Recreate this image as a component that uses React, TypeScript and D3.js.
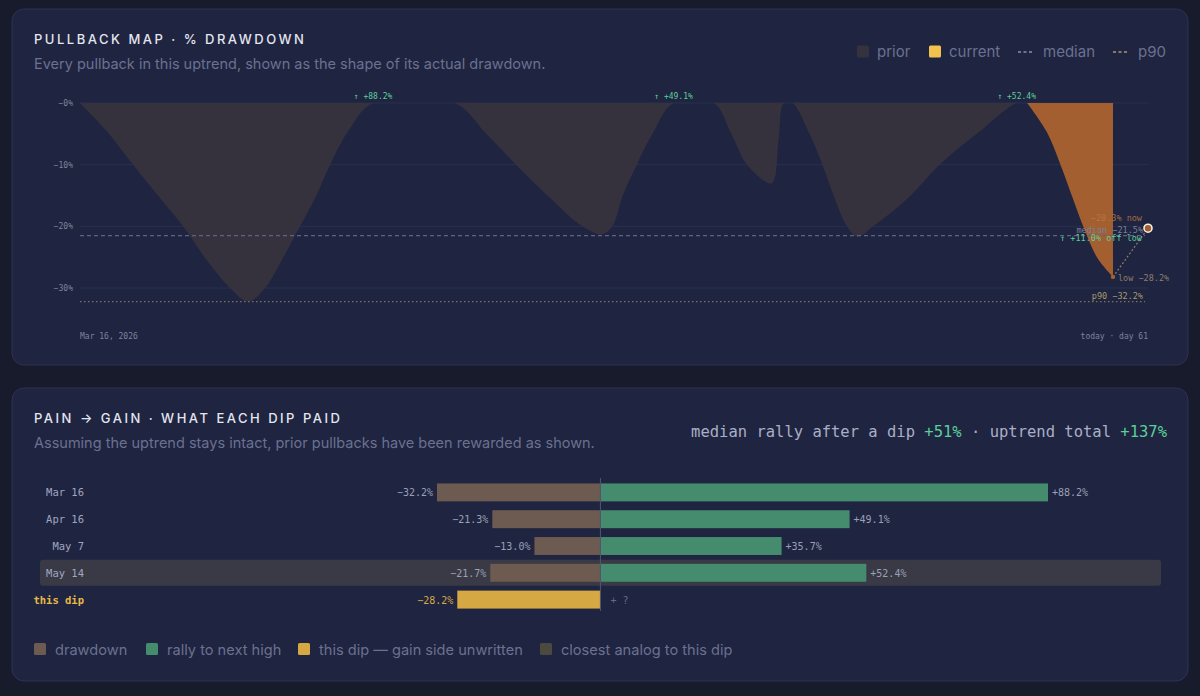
import React from 'react';
import * as d3 from 'd3';

// pullback map: drawdown path of every prior dip, in days since Mar 16, 2026
const priorDays = [
  0, 1.53, 3.03, 4.57, 5.89, 7.14, 8.57, 9.6, 10.57, 11.6, 12.57, 13.43, 14.29, 15.31, 16.74,
  21.4, 23.2, 24.9, 26.7, 28.7, 29.8, 30.4, 31.0, 31.8, 32.7, 33.9,
  36.2, 37.2, 38.1, 39.5, 39.9, 40.2,
  40.7, 41.6, 42.4, 43.1, 43.8, 44.4, 45.3, 47.3, 49.1, 51.4, 53.5, 54.1,
];
const priorDD = [
  0, -4.6, -10, -15.4, -20, -25.1, -30, -32.2, -30, -25.1, -20, -15.4, -10, -4.6, 0,
  0, -5, -10, -15, -20, -21.3, -20, -15, -10, -5, 0,
  0, -5, -10, -13, -6, 0,
  0, -4.6, -10, -15.4, -20, -21.7, -20, -15.4, -10, -4.6, 0, 0,
];

// current dip
const currentDays = [54.1, 55.2, 56.0, 56.7, 57.3, 58.1, 59.0];
const currentDD = [0, -4.6, -10, -15.4, -20, -25.1, -28.2];

const yTicks = [0, -10, -20, -30];
const totalDays = 61;
const lowDay = 59;
const lowDD = -28.2;
const nowDD = -20.3;
const medianDD = -21.5;
const p90DD = -32.2;
const startLabel = 'Mar 16, 2026';

// pain -> gain table
const dipLabels = ['Mar 16', 'Apr 16', 'May 7', 'May 14'];
const dipStartDays = [0, 21.4, 36.2, 40.7];
const dipRecoveryDays = [16.74, 33.9, 40.2, 53.5];
const dipDrawdowns = [-32.2, -21.3, -13.0, -21.7];
const dipRallies = [88.2, 49.1, 35.7, 52.4];
const closestAnalog = 'May 14';
const thisDipLabel = 'this dip';
const medianRally = 51;
const uptrendTotal = 137;

const SANS = "Inter, 'Noto Sans', sans-serif";
const MONO = "'DejaVu Sans Mono', monospace";

const C = {
  page: '#181b2c',
  card: '#1f2440',
  border: '#2c3353',
  title: '#e3e6f0',
  sub: '#6b7190',
  grid: '#293050',
  tick: '#7d849e',
  prior: '#35323e',
  current: '#a45f30',
  currentSwatch: '#f2c14e',
  median: '#5d6482',
  p90: '#77735f',
  green: '#5ccf9b',
  drawdown: '#6d5a51',
  rally: '#458b6e',
  thisDip: '#d6a843',
  analogRow: '#393a45',
  analogSwatch: '#4c4a3f',
};

const pct = (v: number) => `${v < 0 ? '−' : '+'}${Math.abs(v).toFixed(1)}%`;

const App: React.FC = () => {
  const W = 1200;
  const H = 696;

  // top chart scales
  const x = d3.scaleLinear().domain([0, totalDays]).range([80, 1148]);
  const y = d3.scaleLinear().domain([0, -30]).range([103, 288]);

  const area = d3.area<[number, number]>()
    .x(d => x(d[0]))
    .y0(y(0))
    .y1(d => y(d[1]))
    .curve(d3.curveCatmullRom.alpha(0.5));

  const priorPts = priorDays.map((d, i) => [d, priorDD[i]] as [number, number]);
  const currentPts = currentDays.map((d, i) => [d, currentDD[i]] as [number, number]);

  // bottom chart scales
  const rows = [...dipLabels, thisDipLabel];
  const xb = d3.scaleLinear().domain([-32.2, 88.2]).range([437, 1048]);
  const yb = d3.scaleBand().domain(rows).range([479, 613]).paddingInner(0.33).paddingOuter(0.165);
  const bh = yb.bandwidth();
  const offLow = ((1 + nowDD / 100) / (1 + lowDD / 100) - 1) * 100;

  const legendTop = [
    { type: 'sq', color: C.prior, label: 'prior', x: 857 },
    { type: 'sq', color: C.currentSwatch, label: 'current', x: 929 },
    { type: 'dash', color: '#8a90aa', label: 'median', x: 1018 },
    { type: 'dash', color: '#a99a6c', label: 'p90', x: 1113 },
  ];
  const legendBottom = [
    { color: C.drawdown, label: 'drawdown', x: 34 },
    { color: C.rally, label: 'rally to next high', x: 146 },
    { color: C.thisDip, label: 'this dip — gain side unwritten', x: 298 },
    { color: C.analogSwatch, label: 'closest analog to this dip', x: 540 },
  ];

  return (
    <div style={{ position: 'fixed', left: 0, top: 0, width: W, height: H, background: C.page }}>
      <svg width={W} height={H} style={{ display: 'block' }}>
        <defs>
          <clipPath id="below-zero">
            <rect x={x(0)} y={y(0)} width={x(totalDays) - x(0)} height={260} />
          </clipPath>
        </defs>

        {/* ---------- top card ---------- */}
        <rect x={12} y={9} width={1176} height={356} rx={12} fill={C.card} stroke={C.border} />
        <text x={34} y={44} fontFamily={SANS} fontSize={13} fontWeight={500} letterSpacing={2.5} fill={C.title}>
          PULLBACK MAP · % DRAWDOWN
        </text>
        <text x={34} y={69} fontFamily={SANS} fontSize={14.5} fill={C.sub}>
          Every pullback in this uptrend, shown as the shape of its actual drawdown.
        </text>

        {legendTop.map(l => (
          <g key={l.label}>
            {l.type === 'sq'
              ? <rect x={l.x} y={45.5} width={12} height={12} rx={1.5} fill={l.color} />
              : <line x1={l.x} x2={l.x + 16} y1={52} y2={52} stroke={l.color} strokeWidth={1.5} strokeDasharray="3 2.5" />}
            <text x={l.x + (l.type === 'sq' ? 20 : 25)} y={57} fontFamily={SANS} fontSize={15} fill={C.sub}>{l.label}</text>
          </g>
        ))}

        {/* grid + ticks */}
        {yTicks.map(t => (
          <g key={t}>
            <line x1={x(0)} x2={x(totalDays)} y1={y(t)} y2={y(t)} stroke={C.grid} strokeWidth={1} />
            <text x={73} y={y(t) + 3} textAnchor="end" fontFamily={MONO} fontSize={8} fill={C.tick}>
              {`−${Math.abs(t)}%`}
            </text>
          </g>
        ))}

        <g clipPath="url(#below-zero)">
          <path d={area(priorPts) || ''} fill={C.prior} />
          <path d={area(currentPts) || ''} fill={C.current} />
        </g>

        {/* median / p90 */}
        <line x1={x(0)} x2={x(totalDays) - 3} y1={y(medianDD)} y2={y(medianDD)} stroke={C.median} strokeWidth={1.2} strokeDasharray="4 3" />
        <line x1={x(0)} x2={x(totalDays) - 3} y1={y(p90DD)} y2={y(p90DD)} stroke={C.p90} strokeWidth={1.2} strokeDasharray="1.5 2.5" />

        {/* rally labels at each new high (skipped for very short dips) */}
        {dipRecoveryDays.map((d, i) => (dipRecoveryDays[i] - dipStartDays[i] >= 6) && (
          <text key={i} x={x(d)} y={y(0) - 4} textAnchor="middle" fontFamily={MONO} fontSize={8} fill={C.green}>
            {`↑ ${pct(dipRallies[i])}`}
          </text>
        ))}

        {/* low -> now */}
        <line x1={x(lowDay)} y1={y(lowDD)} x2={x(totalDays)} y2={y(nowDD)} stroke="#8c8070" strokeWidth={1.2} strokeDasharray="2 2" />
        <circle cx={x(lowDay)} cy={y(lowDD)} r={2.2} fill={C.current} />
        <circle cx={x(totalDays)} cy={y(nowDD)} r={4} fill={C.current} stroke="#f4f1ea" strokeWidth={1.6} />

        <text x={x(totalDays) - 6} y={y(nowDD) - 7} textAnchor="end" fontFamily={MONO} fontSize={8.5} fill="#b97a45" opacity={0.85}>
          {`${pct(nowDD)} now`}
        </text>
        <text x={x(totalDays) - 5} y={y(medianDD) - 3} textAnchor="end" fontFamily={MONO} fontSize={8.5} fill="#7a809a">
          {`median ${pct(medianDD)}`}
        </text>
        <text x={x(totalDays) - 6} y={y(medianDD) + 5} textAnchor="end" fontFamily={MONO} fontSize={8.5} fill={C.green}>
          {`↑ ${pct(offLow)} off low`}
        </text>
        <text x={x(lowDay) + 5} y={y(lowDD) + 4} fontFamily={MONO} fontSize={8.5} fill="#8c7e72">
          {`low ${pct(lowDD)}`}
        </text>
        <text x={x(totalDays) - 5} y={y(p90DD) - 3} textAnchor="end" fontFamily={MONO} fontSize={8.5} fill="#a8996c">
          {`p90 ${pct(p90DD)}`}
        </text>

        <text x={x(0)} y={339} fontFamily={MONO} fontSize={8} fill={C.tick}>{startLabel}</text>
        <text x={x(totalDays)} y={339} textAnchor="end" fontFamily={MONO} fontSize={8} fill={C.tick}>
          {`today · day ${totalDays}`}
        </text>

        {/* ---------- bottom card ---------- */}
        <rect x={12} y={388} width={1176} height={293} rx={12} fill={C.card} stroke={C.border} />
        <text x={34} y={423} fontFamily={SANS} fontSize={13} fontWeight={500} letterSpacing={2.5} fill={C.title}>
          PAIN → GAIN · WHAT EACH DIP PAID
        </text>
        <text x={34} y={448} fontFamily={SANS} fontSize={14.5} fill={C.sub}>
          Assuming the uptrend stays intact, prior pullbacks have been rewarded as shown.
        </text>
        <text x={1167} y={437} textAnchor="end" fontFamily={MONO} fontSize={15.5} fill="#a9afc6">
          median rally after a dip <tspan fill={C.green}>{`+${medianRally}%`}</tspan> · uptrend total <tspan fill={C.green}>{`+${uptrendTotal}%`}</tspan>
        </text>

        {/* closest analog highlight */}
        <rect x={40} y={(yb(closestAnalog) || 0) + bh / 2 - 13} width={1121} height={26} rx={3} fill={C.analogRow} />

        {dipLabels.map((lab, i) => {
          const yy = yb(lab) || 0;
          return (
            <g key={lab}>
              <rect x={xb(dipDrawdowns[i])} y={yy} width={xb(0) - xb(dipDrawdowns[i])} height={bh} fill={C.drawdown} />
              <rect x={xb(0)} y={yy} width={xb(dipRallies[i]) - xb(0)} height={bh} fill={C.rally} />
              <text x={84} y={yy + bh / 2 + 4} textAnchor="end" fontFamily={MONO} fontSize={10.5} fill="#a0a6c0">{lab}</text>
              <text x={xb(dipDrawdowns[i]) - 4} y={yy + bh / 2 + 4} textAnchor="end" fontFamily={MONO} fontSize={10} fill="#9aa0b8">
                {pct(dipDrawdowns[i])}
              </text>
              <text x={xb(dipRallies[i]) + 4} y={yy + bh / 2 + 4} fontFamily={MONO} fontSize={10} fill="#9aa0b8">
                {pct(dipRallies[i])}
              </text>
            </g>
          );
        })}

        {(() => {
          const yy = yb(thisDipLabel) || 0;
          return (
            <g>
              <rect x={xb(lowDD)} y={yy} width={xb(0) - xb(lowDD)} height={bh} fill={C.thisDip} />
              <text x={84} y={yy + bh / 2 + 4} textAnchor="end" fontFamily={MONO} fontSize={10.5} fontWeight="bold" fill="#e8b948">{thisDipLabel}</text>
              <text x={xb(lowDD) - 4} y={yy + bh / 2 + 4} textAnchor="end" fontFamily={MONO} fontSize={10} fill={C.thisDip}>{pct(lowDD)}</text>
              <text x={xb(0) + 10} y={yy + bh / 2 + 4} fontFamily={MONO} fontSize={10} fill="#646a88">+ ?</text>
            </g>
          );
        })()}

        <line x1={xb(0)} x2={xb(0)} y1={478} y2={611} stroke="#4e5675" strokeWidth={1} />

        {legendBottom.map(l => (
          <g key={l.label}>
            <rect x={l.x} y={643} width={12} height={12} rx={1.5} fill={l.color} />
            <text x={l.x + 21} y={655} fontFamily={SANS} fontSize={14.6} fill={C.sub}>{l.label}</text>
          </g>
        ))}
      </svg>
    </div>
  );
};

export default App;
